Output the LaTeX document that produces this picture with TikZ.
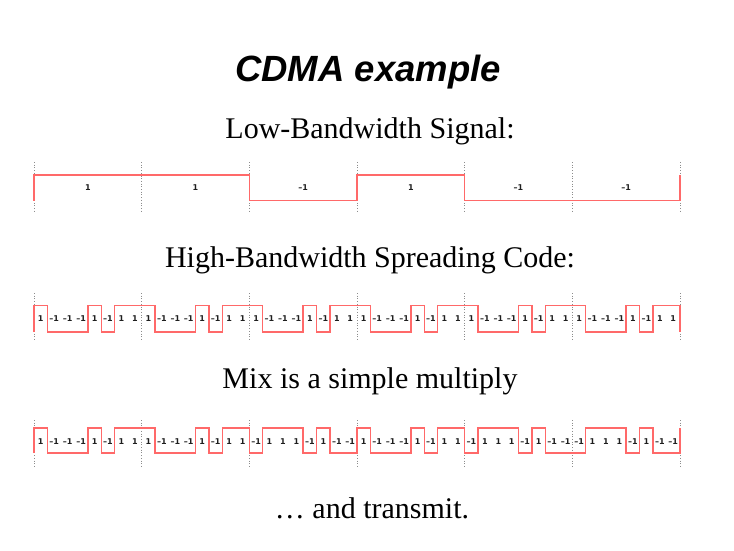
\documentclass[tikz,border=0pt]{standalone}
\usepackage{fontspec}
\setmainfont{Liberation Serif}
\newfontfamily\titlefont{Liberation Sans}
\newfontfamily\labfont{DejaVu Sans}
\definecolor{wavered}{RGB}{255,105,105}
\definecolor{labgray}{RGB}{30,30,30}
\definecolor{gridgray}{RGB}{140,140,140}

\newcommand\sigrow[6]{%
  \pgfmathsetmacro\stp{646/#2}%
  \gdef\wpath{}%
  \foreach \v [count=\i from 0] in {#1}{%
    \pgfmathsetmacro\xa{34+\i*\stp}%
    \pgfmathsetmacro\xb{34+(\i+1)*\stp}%
    \pgfmathsetmacro\xc{34+(\i+0.5)*\stp}%
    \pgfmathsetmacro\yy{\v>0 ? #3 : #4}%
    \pgfmathsetmacro\yo{\v>0 ? #4 : #3}%
    \xdef\wpath{\wpath -- (\xa,\yy) -- (\xb,\yy)}%
    \xdef\wend{(\xb,\yo)}%
    \node[lab] (l#6\i) at (\xc,#5) {\ifnum\v>0 1\else–1\fi};
  }%
  \edef\tmp{\noexpand\draw[wave] (34,#4) \wpath\space -- \wend;}%
  \tmp
}

\begin{document}
\begin{tikzpicture}[x=1pt,y=-1pt,
  wave/.style={draw=wavered, line width=1.4pt, line join=miter},
  gridline/.style={draw=gridgray, dotted, line width=0.7pt},
  lab/.style={font=\labfont\bfseries\fontsize{8}{9}\selectfont, text=labgray, inner sep=0pt},
  heading/.style={font=\fontsize{30}{36}\selectfont, anchor=base, inner sep=0pt},
]
\useasboundingbox[fill=white] (0,0) rectangle (734,550);

\node[heading, font=\titlefont\bfseries\itshape\fontsize{36.5}{40}\selectfont] (title) at (368,81) {CDMA example};
\node[heading] (t1) at (370,138) {Low-Bandwidth Signal:};
\node[heading] (t2) at (370,267) {High-Bandwidth Spreading Code:};
\node[heading] (t3) at (370,388) {Mix is a simple multiply};
\node[heading] (t4) at (372,518) {… and transmit.};

% grid lines
\foreach \k in {0,...,6}{
  \draw[gridline] (34+\k*107.6667,162) -- (34+\k*107.6667,213);
  \draw[gridline] (34+\k*107.6667,293) -- (34+\k*107.6667,340);
  \draw[gridline] (34+\k*107.6667,420) -- (34+\k*107.6667,467);
}

\sigrow{1,1,-1,1,-1,-1}{6}{175}{200.5}{188}{a}
\sigrow{1,-1,-1,-1,1,-1,1,1, 1,-1,-1,-1,1,-1,1,1, 1,-1,-1,-1,1,-1,1,1, 1,-1,-1,-1,1,-1,1,1, 1,-1,-1,-1,1,-1,1,1, 1,-1,-1,-1,1,-1,1,1}{48}{305.5}{332}{319}{b}
\sigrow{1,-1,-1,-1,1,-1,1,1, 1,-1,-1,-1,1,-1,1,1, -1,1,1,1,-1,1,-1,-1, 1,-1,-1,-1,1,-1,1,1, -1,1,1,1,-1,1,-1,-1, -1,1,1,1,-1,1,-1,-1}{48}{428}{453}{441.5}{c}
\end{tikzpicture}
\end{document}
